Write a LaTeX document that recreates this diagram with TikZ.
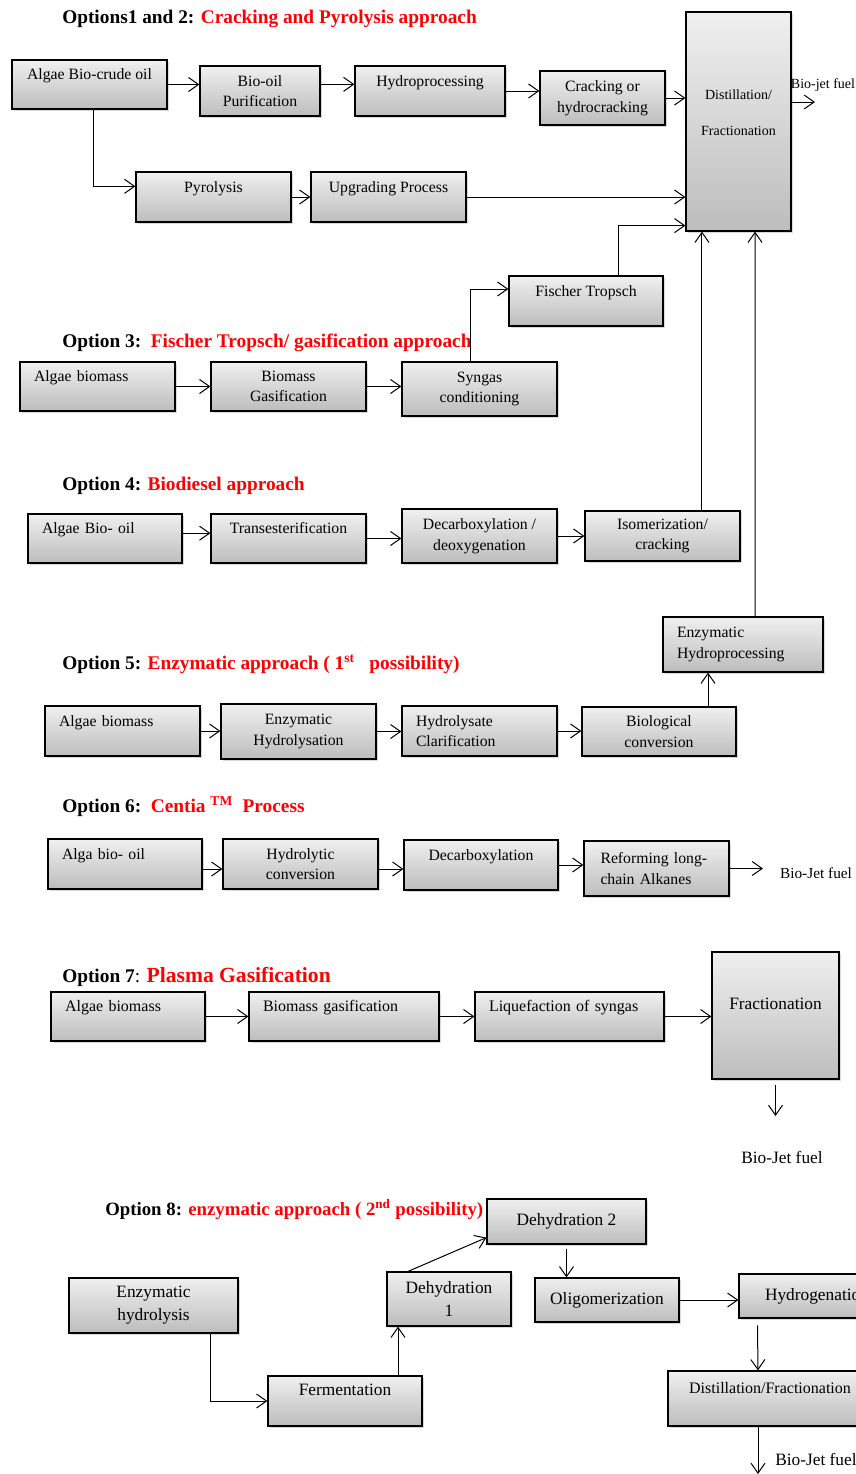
\documentclass[tikz,border=0pt]{standalone}
\usepackage{fontspec}
\setmainfont{Liberation Serif}
\usetikzlibrary{arrows.meta,shadows}
\newcommand\procfont{\fontsize{11.8}{15.5}\selectfont}
\newcommand\procmidfont{\fontsize{12}{15.5}\selectfont}
\newcommand\procbigfont{\fontsize{13}{17.2}\selectfont}
\newcommand\procsmallfont{\fontsize{10.5}{13}\selectfont}
\newcommand\headfont{\fontsize{14.5}{17}\selectfont\bfseries}
\newcommand\topln[1]{#1\\\mbox{}}
\begin{document}
\begin{tikzpicture}[x=0.75pt,y=-0.75pt,
    box/.style={draw, line width=0.9pt, top color=gray!12, bottom color=gray!52,
        drop shadow={shadow xshift=1.5pt, shadow yshift=-1.5pt, opacity=0.3},
        align=center, inner sep=0pt, font=\procfont},
    sz/.code 2 args={\pgfmathsetlengthmacro\boxw{#1*0.75pt}\pgfmathsetlengthmacro\boxh{#2*0.75pt}%
        \pgfkeysalso{minimum width=\boxw, minimum height=\boxh}},
    lft/.style={align=left, inner xsep=10.5pt, text width=#1},
    arr/.style={-{Straight Barb[length=7.5pt,width=10.5pt]}, line width=0.75pt},
    head/.style={anchor=west, inner sep=0pt, font=\headfont},
    fuel/.style={inner sep=0pt}]
    \clip (0,0) rectangle (856,1474);

    \node[head] (t1) at (62,19) {Options1 and 2: \textcolor{red}{Cracking and Pyrolysis approach}};
    \node[box, sz={155}{49}] (crude) at (89.5,84.5) {\topln{Algae Bio-crude oil}};
    \node[box, sz={120}{50}] (purif) at (260,91) {Bio-oil\\Purification};
    \node[box, sz={150}{50}] (hydro) at (430,91) {\topln{Hydroprocessing}};
    \node[box, sz={125}{54}] (crack) at (602.5,98) {Cracking or\\hydrocracking};
    \node[box, sz={105}{219}, font=\procsmallfont] (dist) at (738.5,121.5) {Distillation/\\[14pt]Fractionation\\\mbox{}};
    \node[box, sz={155}{50}] (pyro) at (213.5,197) {\topln{Pyrolysis}};
    \node[box, sz={155}{50}] (upgr) at (388.5,197) {\topln{Upgrading Process}};
    \node[box, sz={154}{50}] (ft) at (586,301) {\topln{Fischer Tropsch}};
    \coordinate (jetA) at (815,102);
    \node[fuel, font=\procsmallfont] (jetAlab) at (823,85) {Bio-jet fuel};

    \node[head] (t3) at (62,343) {Option 3:\ \ \textcolor{red}{Fischer Tropsch/ gasification approach}};
    \node[box, sz={155}{49}, lft=95.25pt] (bio3) at (97.5,386.5) {\topln{Algae biomass}};
    \node[box, sz={155}{49}] (gasif) at (288.5,386.5) {Biomass\\Gasification};
    \node[box, sz={155}{54}] (syng) at (479.5,389) {Syngas\\conditioning};

    \node[head] (t4) at (62,486) {Option 4: \textcolor{red}{Biodiesel approach}};
    \node[box, sz={154}{49}, lft=94.5pt] (oil4) at (105,538.5) {\topln{Algae Bio- oil}};
    \node[box, sz={155}{49}] (trans) at (288.5,538.5) {\topln{Transesterification}};
    \node[box, sz={155}{54}] (decarb) at (479.5,536) {Decarboxylation /\\deoxygenation};
    \node[box, sz={155}{50}] (isom) at (662.5,536) {Isomerization/\\cracking};

    \node[head] (t5) at (62,664) {Option 5: \textcolor{red}{Enzymatic approach ( 1\textsuperscript{st}\ \ \ possibility)}};
    \node[box, sz={155}{50}, lft=95.25pt] (bio5) at (122.5,731) {\topln{Algae biomass}};
    \node[box, sz={155}{55}] (enzh) at (298.5,731.5) {Enzymatic\\Hydrolysation};
    \node[box, sz={155}{50}, lft=95.25pt] (clar) at (479.5,731) {Hydrolysate\\Clarification};
    \node[box, sz={154}{49}] (bconv) at (659,731.5) {Biological\\conversion};
    \node[box, sz={160}{55}, lft=99pt] (enzp) at (743,644.5) {Enzymatic\\Hydroprocessing};

    \node[head] (t6) at (62,807) {Option 6:\ \ \textcolor{red}{Centia \textsuperscript{TM}\ \ Process}};
    \node[box, sz={154}{50}, lft=94.5pt] (oil6) at (125,864) {\topln{Alga bio- oil}};
    \node[box, sz={155}{50}] (hydrol) at (300.5,864) {Hydrolytic\\conversion};
    \node[box, sz={154}{50}] (decarb6) at (481,865) {\topln{Decarboxylation}};
    \node[box, sz={145}{55}, lft=84pt, inner xsep=12pt] (reform) at (656.5,868.5) {Reforming long-\\chain Alkanes};
    \coordinate (jetB) at (763,868.5);
    \node[fuel, font=\fontsize{11.5}{14}\selectfont] (jetBlab) at (816,873) {Bio-Jet fuel};

    \node[head] (t7) at (62,977) {Option 7\textmd{:} \textcolor{red}{\fontsize{16.2}{19}\selectfont Plasma Gasification}};
    \node[box, sz={154}{49}, lft=94.5pt, font=\procmidfont] (bio7) at (128,1016.5) {\topln{Algae biomass}};
    \node[box, sz={190}{49}, lft=121.5pt, font=\procmidfont] (gas7) at (344,1016.5) {\topln{Biomass gasification}};
    \node[box, sz={189}{49}, lft=120.75pt, font=\procmidfont] (liq) at (569.5,1016.5) {\topln{Liquefaction of syngas}};
    \node[box, sz={127}{127}, font=\procbigfont] (frac) at (775.5,1015.5) {\topln{Fractionation}};
    \coordinate (jetC) at (778,1116);
    \node[fuel, font=\procbigfont] (jetClab) at (782,1157) {Bio-Jet fuel};

    \node[head, font=\fontsize{14.1}{17}\selectfont\bfseries] (t8) at (105,1209) {Option 8: \textcolor{red}{enzymatic approach ( 2\textsuperscript{nd} possibility)}};
    \node[box, sz={169}{55}, font=\procbigfont] (enzhyd) at (153.5,1305.5) {Enzymatic\\hydrolysis};
    \node[box, sz={154}{50}, font=\procbigfont] (ferm) at (345,1401) {\topln{Fermentation}};
    \node[box, sz={124}{54}, font=\procbigfont] (dehyA) at (449,1299) {Dehydration\\1};
    \node[box, sz={159}{45}, font=\procbigfont] (dehyB) at (566.5,1221.5) {Dehydration 2};
    \node[box, sz={144}{44}, font=\procbigfont] (olig) at (607,1300) {Oligomerization};
    \node[box, sz={156}{44}, font=\procbigfont] (hydrog) at (817,1296) {Hydrogenation};
    \node[box, sz={204}{55}, font=\procmidfont] (distB) at (770,1398.5) {\topln{Distillation/Fractionation}};
    \coordinate (jetD) at (758,1474);
    \node[fuel, font=\procbigfont, anchor=west] (jetDlab) at (775,1459) {Bio-Jet fuel};

    \draw[arr] (crude.east) -- (crude.east -| purif.west);
    \draw[arr] ([yshift=5pt]purif.east) -- ([yshift=5pt]hydro.west);
    \draw[arr] (hydro.east) -- (hydro.east -| crack.west);
    \draw[arr] (crack.east) -- (crack.east -| dist.west);
    \draw[arr] (dist.east |- jetA) -- (jetA);
    \draw[arr] ([xshift=3pt]crude.south) |- ([yshift=8pt]pyro.west);
    \draw[arr] (pyro.east) -- (upgr.west);
    \draw[arr] (upgr.east) -- (upgr.east -| dist.west);
    \draw[arr] ([xshift=24pt]ft.north) |- ([yshift=4.5pt]dist.south west);
    \draw[arr] ([xshift=-6.4pt]syng.north) |- ([yshift=9pt]ft.west);
    \draw[arr] (bio3.east) -- (gasif.west);
    \draw[arr] (gasif.east) -- (gasif.east -| syng.west);
    \draw[arr] ([yshift=4pt]oil4.east) -- ([yshift=4pt]trans.west);
    \draw[arr] (trans.east) -- (trans.east -| decarb.west);
    \draw[arr] (decarb.east) -- (decarb.east -| isom.west);
    \draw[arr] ([xshift=29.6pt]isom.north) -- ([xshift=-27.4pt]dist.south);
    \draw[arr] ([xshift=9pt]enzp.north) -- ([xshift=12.4pt]dist.south);
    \draw[arr] ([xshift=36.75pt]bconv.north) -- ([xshift=-26.25pt]enzp.south);
    \draw[arr] (bio5.east) -- (bio5.east -| enzh.west);
    \draw[arr] (enzh.east) -- (enzh.east -| clar.west);
    \draw[arr] (clar.east) -- (clar.east -| bconv.west);
    \draw[arr] ([yshift=-3.75pt]oil6.east) -- ([yshift=-3.75pt]hydrol.west);
    \draw[arr] ([yshift=-3.75pt]hydrol.east) -- ([yshift=-3pt]decarb6.west);
    \draw[arr] (decarb6.east) -- (decarb6.east -| reform.west);
    \draw[arr] (reform.east) -- (jetB);
    \draw[arr] (bio7.east) -- (gas7.west);
    \draw[arr] (gas7.east) -- (liq.west);
    \draw[arr] (liq.east) -- (liq.east -| frac.west);
    \draw[arr, shorten <=4pt] (frac.south) -- (frac.south |- jetC);
    \draw[arr] ([xshift=42.4pt]enzhyd.south) |- (ferm.west);
    \draw[arr] ([xshift=39.75pt]ferm.north) -- ([xshift=-38.25pt]dehyA.south);
    \draw[arr] ([xshift=-30.75pt]dehyA.north) -- ([yshift=5.25pt]dehyB.south west);
    \draw[arr, shorten <=3pt] (dehyB.south) -- (dehyB.south |- olig.north);
    \draw[arr] (olig.east) -- (olig.east -| hydrog.west);
    \draw[arr, shorten <=5pt] ([xshift=14.25pt]hydrog.south west) -- ([xshift=-9pt]distB.north);
    \draw[arr] ([xshift=-9pt]distB.south) -- (jetD);
\end{tikzpicture}
\end{document}
